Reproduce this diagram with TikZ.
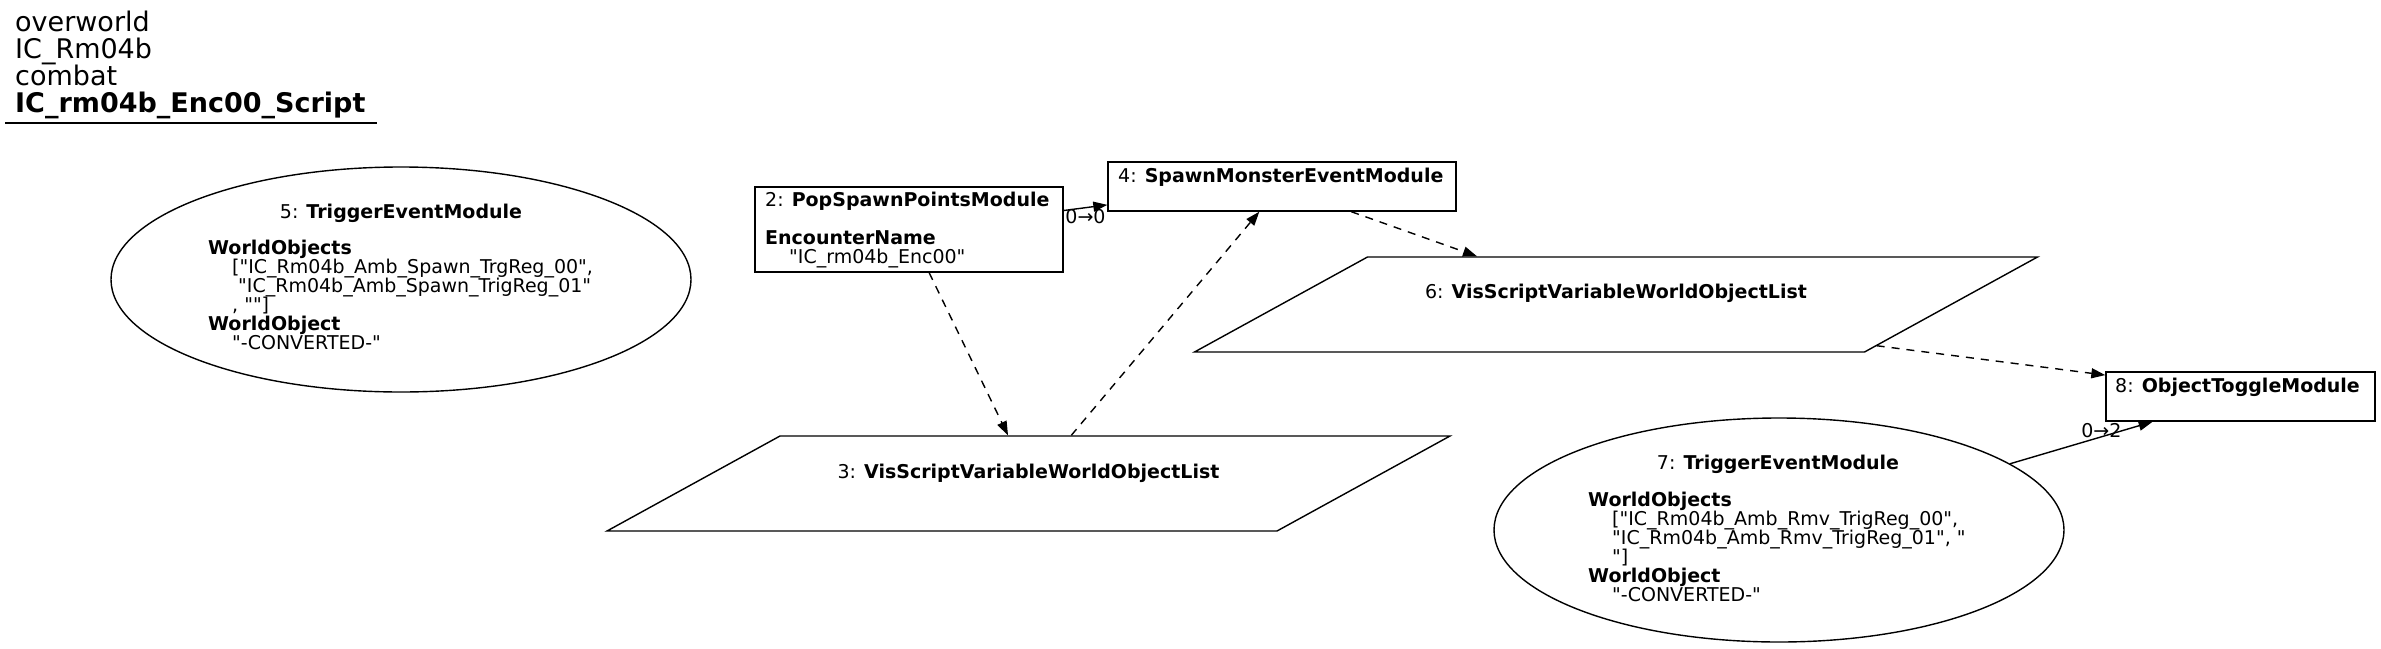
\documentclass[tikz,border=0pt]{standalone}
\usepackage{fontspec}
\setmainfont{DejaVu Sans}[Ligatures=TeXOff]
\usetikzlibrary{positioning,shapes.geometric,arrows.meta}
\newcommand{\gvfont}{\fontsize{19}{19}\selectfont}
\newcommand{\hdfont}{\fontsize{27}{27}\selectfont}

\begin{document}
\begin{tikzpicture}[x=1pt, y=-1pt,
    modbox/.style={draw, rectangle, inner sep=0pt, line width=1.4pt},
    modoval/.style={draw, ellipse, inner sep=0pt, line width=1.4pt},
    varlist/.style={draw, rectangle, xslant=1.821, transform shape, inner sep=0pt,
      minimum width=670pt, minimum height=95pt, line width=1.4pt},
    lbl/.style={font=\gvfont, inner sep=0pt},
    hdr/.style={font=\hdfont, inner sep=0pt, anchor=base west},
    flow/.style={-{Triangle[length=14pt,width=10pt]}, line width=1.4pt},
    varflow/.style={flow, dash pattern=on 8pt off 7pt}]
  \useasboundingbox (0,0) rectangle (2381,648);

  % header
  \node[hdr] (h1) at (15,31) {overworld};
  \node[hdr] (h2) at (15,58) {IC\_Rm04b};
  \node[hdr] (h3) at (15,85) {combat};
  \node[hdr] (h4) at (15,112) {\textbf{IC\_rm04b\_Enc00\_Script}};
  \draw[line width=1.4pt] (5,123) -- (377,123);

  % modules
  \node[modbox, minimum width=308pt, minimum height=85pt] (n2) at (909,229.5) {};
  \node[modbox, minimum width=348pt, minimum height=49pt] (n4) at (1282,186.5) {};
  \node[modbox, minimum width=269pt, minimum height=49pt] (n8) at (2240.5,396.5) {};
  \node[varlist] (n3) at (1028.5,483.5) {};
  \node[varlist] (n6) at (1616,304.5) {};
  \node[modoval, minimum width=580pt, minimum height=225pt] (n5) at (401,279.5) {};
  \node[modoval, minimum width=570pt, minimum height=224pt] (n7) at (1779,530) {};

  % texts
  \node[lbl, anchor=north west, align=left] (t2) at (765,191.6)
    {2: \textbf{PopSpawnPointsModule}\\[19pt]\textbf{EncounterName}\\\hspace*{24pt}"IC\_rm04b\_Enc00"};
  \node[lbl, anchor=base west] (t4) at (1118,182) {4: \textbf{SpawnMonsterEventModule}};
  \node[lbl, anchor=base west] (t8) at (2115,392) {8: \textbf{ObjectToggleModule}};
  \node[lbl, anchor=base] (t3) at (1028.5,478.5) {3: \textbf{VisScriptVariableWorldObjectList}};
  \node[lbl, anchor=base] (t6) at (1616,298.5) {6: \textbf{VisScriptVariableWorldObjectList}};
  \node[lbl, anchor=base] (t5) at (401,218) {5: \textbf{TriggerEventModule}};
  \node[lbl, anchor=north west, align=left] (b5) at (208,240)
    {\textbf{WorldObjects}\\
     \hspace*{24pt}["IC\_Rm04b\_Amb\_Spawn\_TrgReg\_00",\\
     \hspace*{30pt}"IC\_Rm04b\_Amb\_Spawn\_TrigReg\_01"\\
     \hspace*{24pt}, ""]\\
     \textbf{WorldObject}\\
     \hspace*{24pt}"-CONVERTED-"};
  \node[lbl, anchor=base] (t7) at (1778,469.5) {7: \textbf{TriggerEventModule}};
  \node[lbl, anchor=north west, align=left] (b7) at (1588,491.5)
    {\textbf{WorldObjects}\\
     \hspace*{24pt}["IC\_Rm04b\_Amb\_Rmv\_TrigReg\_00",\\
     \hspace*{24pt}"IC\_Rm04b\_Amb\_Rmv\_TrigReg\_01", "\\
     \hspace*{24pt}"]\\
     \textbf{WorldObject}\\
     \hspace*{24pt}"-CONVERTED-"};

  % connectors
  \draw[flow] (n2.7) -- (n4.186) node[lbl, midway, yshift=-9pt] (e24) {0→0};
  \draw[varflow] (n2.-65) -- (n3.156);
  \draw[varflow] (n3.133) -- (n4.-132);
  \draw[varflow] (n4.-20) -- (n6.168);
  \draw[varflow] (n6.-7) -- (n8.171);
  \draw[flow] (n7.16) -- (n8.-164) node[lbl, pos=0.64, yshift=6pt] (e78) {0→2};
\end{tikzpicture}
\end{document}
